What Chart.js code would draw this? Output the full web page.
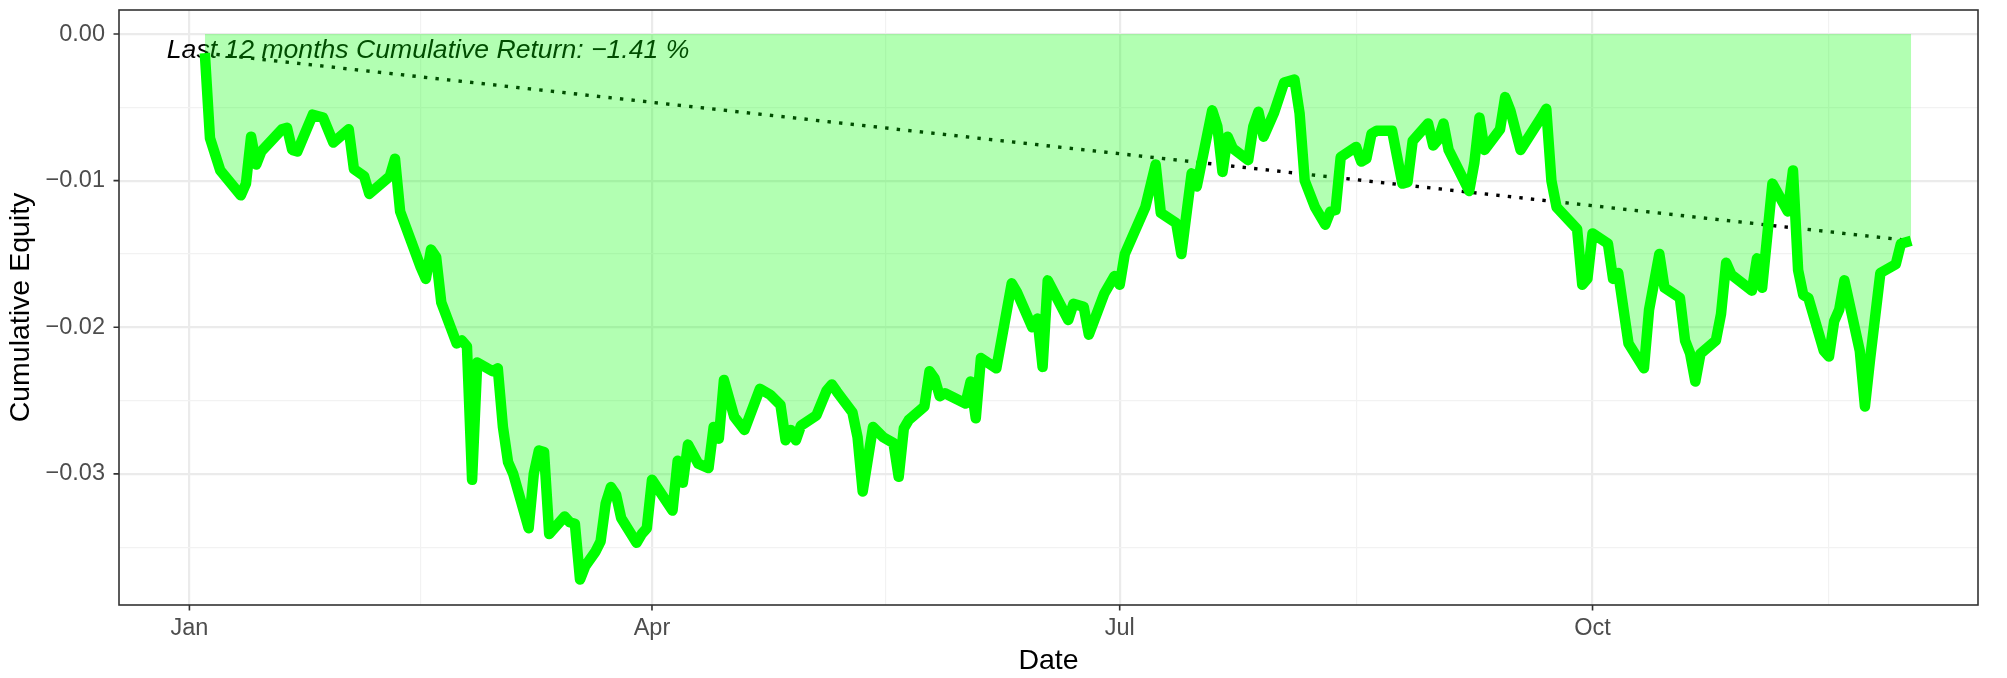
<!DOCTYPE html>
<html><head><meta charset="utf-8">
<script src="https://cdn.jsdelivr.net/npm/chart.js@4.4.0/dist/chart.umd.min.js"></script>
<style>html,body{margin:0;padding:0;background:#fff;}#wrap{width:2007px;height:678px;}</style>
</head><body><div id="wrap"><canvas id="c" width="2007" height="678"></canvas></div>
<script>
// ---- data ----
const dates = ['2021-01-04','2021-01-05','2021-01-07','2021-01-11','2021-01-12','2021-01-13','2021-01-14','2021-01-15','2021-01-19','2021-01-20','2021-01-21','2021-01-22','2021-01-25','2021-01-27','2021-01-29','2021-02-01','2021-02-02','2021-02-04','2021-02-05','2021-02-09','2021-02-10','2021-02-11','2021-02-15','2021-02-16','2021-02-17','2021-02-18','2021-02-19','2021-02-22','2021-02-23','2021-02-24','2021-02-25','2021-02-26','2021-03-01','2021-03-02','2021-03-03','2021-03-04','2021-03-05','2021-03-08','2021-03-09','2021-03-10','2021-03-11','2021-03-12','2021-03-15','2021-03-16','2021-03-17','2021-03-18','2021-03-19','2021-03-21','2021-03-22','2021-03-23','2021-03-24','2021-03-25','2021-03-26','2021-03-29','2021-03-30','2021-03-31','2021-04-01','2021-04-05','2021-04-06','2021-04-07','2021-04-08','2021-04-10','2021-04-12','2021-04-13','2021-04-14','2021-04-15','2021-04-17','2021-04-19','2021-04-22','2021-04-24','2021-04-26','2021-04-27','2021-04-28','2021-04-29','2021-04-30','2021-05-03','2021-05-05','2021-05-06','2021-05-07','2021-05-10','2021-05-11','2021-05-12','2021-05-14','2021-05-16','2021-05-18','2021-05-19','2021-05-20','2021-05-21','2021-05-24','2021-05-25','2021-05-26','2021-05-27','2021-05-28','2021-06-01','2021-06-02','2021-06-03','2021-06-04','2021-06-07','2021-06-10','2021-06-11','2021-06-14','2021-06-15','2021-06-16','2021-06-17','2021-06-21','2021-06-22','2021-06-24','2021-06-25','2021-06-28','2021-06-30','2021-07-01','2021-07-02','2021-07-06','2021-07-08','2021-07-09','2021-07-12','2021-07-13','2021-07-15','2021-07-16','2021-07-19','2021-07-20','2021-07-21','2021-07-22','2021-07-23','2021-07-26','2021-07-27','2021-07-28','2021-07-29','2021-07-31','2021-08-02','2021-08-04','2021-08-05','2021-08-06','2021-08-08','2021-08-10','2021-08-11','2021-08-12','2021-08-13','2021-08-16','2021-08-17','2021-08-18','2021-08-19','2021-08-20','2021-08-23','2021-08-24','2021-08-25','2021-08-26','2021-08-27','2021-08-30','2021-08-31','2021-09-01','2021-09-02','2021-09-03','2021-09-07','2021-09-08','2021-09-09','2021-09-10','2021-09-13','2021-09-14','2021-09-15','2021-09-17','2021-09-21','2021-09-22','2021-09-23','2021-09-24','2021-09-28','2021-09-29','2021-09-30','2021-10-01','2021-10-04','2021-10-05','2021-10-06','2021-10-08','2021-10-11','2021-10-12','2021-10-14','2021-10-15','2021-10-18','2021-10-19','2021-10-20','2021-10-21','2021-10-22','2021-10-25','2021-10-26','2021-10-27','2021-10-28','2021-11-01','2021-11-02','2021-11-03','2021-11-05','2021-11-08','2021-11-09','2021-11-10','2021-11-11','2021-11-12','2021-11-15','2021-11-16','2021-11-17','2021-11-18','2021-11-19','2021-11-22','2021-11-23','2021-11-24','2021-11-26','2021-11-29','2021-11-30','2021-12-02'];
const equity = [-0.0013,-0.0071,-0.0093,-0.0110,-0.0102,-0.0070,-0.0089,-0.0080,-0.0065,-0.0064,-0.0079,-0.0080,-0.0055,-0.0057,-0.0074,-0.0065,-0.0092,-0.0097,-0.0109,-0.0097,-0.0085,-0.0121,-0.0159,-0.0167,-0.0147,-0.0152,-0.0183,-0.0211,-0.0209,-0.0213,-0.0304,-0.0224,-0.0230,-0.0228,-0.0268,-0.0292,-0.0300,-0.0337,-0.0300,-0.0284,-0.0285,-0.0341,-0.0329,-0.0333,-0.0334,-0.0372,-0.0363,-0.0353,-0.0346,-0.0320,-0.0309,-0.0314,-0.0330,-0.0347,-0.0341,-0.0337,-0.0304,-0.0325,-0.0291,-0.0306,-0.0280,-0.0293,-0.0296,-0.0268,-0.0276,-0.0236,-0.0261,-0.0270,-0.0242,-0.0246,-0.0253,-0.0277,-0.0270,-0.0277,-0.0267,-0.0260,-0.0243,-0.0239,-0.0244,-0.0258,-0.0275,-0.0312,-0.0268,-0.0275,-0.0279,-0.0302,-0.0269,-0.0263,-0.0254,-0.0230,-0.0235,-0.0247,-0.0245,-0.0252,-0.0237,-0.0262,-0.0221,-0.0228,-0.0170,-0.0176,-0.0200,-0.0194,-0.0227,-0.0168,-0.0195,-0.0184,-0.0186,-0.0205,-0.0177,-0.0165,-0.0171,-0.0150,-0.0118,-0.0089,-0.0122,-0.0129,-0.0150,-0.0095,-0.0104,-0.0052,-0.0063,-0.0094,-0.0070,-0.0078,-0.0086,-0.0063,-0.0053,-0.0070,-0.0054,-0.0033,-0.0031,-0.0054,-0.0100,-0.0118,-0.0130,-0.0121,-0.0120,-0.0084,-0.0077,-0.0087,-0.0085,-0.0068,-0.0066,-0.0066,-0.0084,-0.0102,-0.0101,-0.0073,-0.0061,-0.0076,-0.0072,-0.0061,-0.0079,-0.0107,-0.0088,-0.0057,-0.0079,-0.0065,-0.0043,-0.0052,-0.0079,-0.0057,-0.0051,-0.0100,-0.0118,-0.0133,-0.0171,-0.0167,-0.0136,-0.0143,-0.0167,-0.0163,-0.0211,-0.0228,-0.0188,-0.0150,-0.0173,-0.0180,-0.0209,-0.0218,-0.0237,-0.0218,-0.0209,-0.0191,-0.0156,-0.0164,-0.0175,-0.0153,-0.0173,-0.0102,-0.0121,-0.0093,-0.0161,-0.0178,-0.0180,-0.0216,-0.0220,-0.0196,-0.0188,-0.0168,-0.0216,-0.0254,-0.0222,-0.0163,-0.0157,-0.0143,-0.0141];
const xMajorDates = ['2021-01-01','2021-04-01','2021-07-01','2021-10-01','2022-01-01'];
const xMajorLabels = ['Jan','Apr','Jul','Oct',''];
const yMajorTicks = [0, -0.01, -0.02, -0.03];
const yMajorLabels = ['0.00','\u22120.01','\u22120.02','\u22120.03'];
const yMinorTicks = [-0.005, -0.015, -0.025, -0.035];
const annotationText = 'Last 12 months Cumulative Return: \u22121.41 %';
const xTitle = 'Date';
const yTitle = 'Cumulative Equity';

// ---- helpers ----
const ORIGIN = Date.UTC(2021, 0, 1);
const toDay = s => (Date.parse(s + 'T00:00:00Z') - ORIGIN) / 864e5;
const points = dates.map((d, i) => ({ x: toDay(d), y: equity[i] }));
const trend = [points[0], points[points.length - 1]];
const xMajor = xMajorDates.map(toDay);
const xMinor = xMajor.slice(0, -1).map((v, i) => (v + xMajor[i + 1]) / 2);
const xAll = [...xMajor, ...xMinor].sort((a, b) => a - b);
const yAll = [...yMajorTicks, ...yMinorTicks].sort((a, b) => a - b);
const isXMajor = v => xMajor.some(m => Math.abs(m - v) < 1e-6);
const isYMajor = v => yMajorTicks.some(m => Math.abs(m - v) < 1e-9);

const FONT = "'Liberation Sans',Arial,sans-serif";
const zeroPad = s => { s.paddingTop = 0; s.paddingBottom = 0; s.paddingLeft = 0; s.paddingRight = 0; };

const decor = {
  id: 'decor',
  beforeDraw(chart) {
    const c = chart.ctx; c.save(); c.fillStyle = '#ffffff'; c.fillRect(0, 0, chart.width, chart.height); c.restore();
  },
  beforeDatasetsDraw(chart) {
    const c = chart.ctx, xs = chart.scales.x, ys = chart.scales.y;
    c.save();
    c.font = "italic 26.6px " + FONT;
    c.fillStyle = '#000000'; c.textAlign = 'left'; c.textBaseline = 'middle';
    c.fillText(annotationText, xs.getPixelForValue(-4.4), ys.getPixelForValue(-0.00112));
    c.restore();
  },
  afterDatasetsDraw(chart) {
    const c = chart.ctx, a = chart.chartArea, xs = chart.scales.x, ys = chart.scales.y;
    c.save();
    c.strokeStyle = '#333333'; c.lineWidth = 1.6;
    c.strokeRect(a.left, a.top, a.right - a.left, a.bottom - a.top);
    c.beginPath();
    yMajorTicks.forEach(v => { const p = ys.getPixelForValue(v); c.moveTo(a.left - 5.5, p); c.lineTo(a.left, p); });
    xMajor.forEach(v => { if (v < xs.min || v > xs.max) return; const p = xs.getPixelForValue(v); c.moveTo(p, a.bottom); c.lineTo(p, a.bottom + 5.5); });
    c.stroke();
    c.restore();
  }
};

new Chart(document.getElementById('c'), {
  type: 'line',
  data: {
    datasets: [
      { label: 'equity', data: points, borderColor: '#00ff00', borderWidth: 10.5, pointRadius: 0,
        borderJoinStyle: 'round', borderCapStyle: 'butt', tension: 0,
        fill: { value: 0 }, backgroundColor: 'rgba(0,255,0,0.3)', order: 0 },
      { label: 'trend', data: trend, borderColor: '#000000', borderWidth: 3.4, borderDash: [3.4, 8.2],
        borderCapStyle: 'butt', pointRadius: 0, fill: false, tension: 0, order: 1 }
    ]
  },
  plugins: [decor],
  options: {
    responsive: false, animation: false, devicePixelRatio: 1,
    layout: { padding: { left: 0, top: 10, right: 29, bottom: 0 } },
    plugins: { legend: { display: false }, tooltip: { enabled: false } },
    scales: {
      x: {
        type: 'linear', min: -13.7, max: 348.0,
        afterBuildTicks: s => { s.ticks = xAll.filter(v => v >= s.min && v <= s.max).map(v => ({ value: v })); },
        afterFit: s => { s.height = 73; zeroPad(s); },
        ticks: { autoSkip: false, maxRotation: 0, padding: 9.5, color: '#4d4d4d',
          font: { family: FONT, size: 23.5 },
          callback: v => { const i = xMajor.findIndex(m => Math.abs(m - v) < 1e-6); return i >= 0 ? xMajorLabels[i] : ''; } },
        grid: { drawTicks: false, color: c => isXMajor(c.tick.value) ? '#ebebeb' : '#f2f2f2',
          lineWidth: c => isXMajor(c.tick.value) ? 2.2 : 1.2 },
        border: { display: false },
        title: { display: true, text: xTitle, color: '#000000', font: { family: FONT, size: 28.5 }, padding: { top: 0, bottom: 0 } }
      },
      y: {
        type: 'linear', min: -0.03894, max: 0.00164,
        afterBuildTicks: s => { s.ticks = yAll.map(v => ({ value: v })); },
        afterFit: s => { s.width = 119; zeroPad(s); },
        ticks: { autoSkip: false, padding: 14, color: '#4d4d4d',
          font: { family: FONT, size: 23.5 },
          callback: v => { const i = yMajorTicks.findIndex(m => Math.abs(m - v) < 1e-9); return i >= 0 ? yMajorLabels[i] : ''; } },
        grid: { drawTicks: false, color: c => isYMajor(c.tick.value) ? '#ebebeb' : '#f2f2f2',
          lineWidth: c => isYMajor(c.tick.value) ? 2.2 : 1.2 },
        border: { display: false },
        title: { display: true, text: yTitle, color: '#000000', font: { family: FONT, size: 28.5 }, padding: { top: 4.5, bottom: 0 } }
      }
    }
  }
});
</script></body></html>
